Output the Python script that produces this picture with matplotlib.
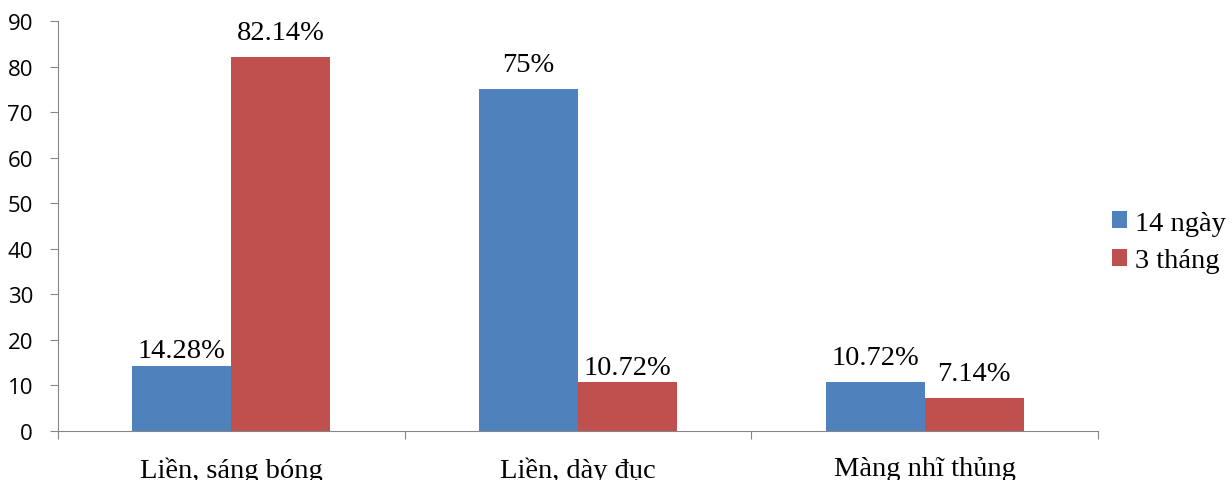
import matplotlib.pyplot as plt
import numpy as np

# data
categories = ['Liền, sáng bóng', 'Liền, dày đục', 'Màng nhĩ thủng']
series_names = ['14 ngày', '3 tháng']
vals_14ngay = [14.28, 75, 10.72]
vals_3thang = [82.14, 10.72, 7.14]
labels_14ngay = ['14.28%', '75%', '10.72%']
labels_3thang = ['82.14%', '10.72%', '7.14%']

# label gap above each bar, in points (two labels sit closer in the original)
gap_14ngay = [6.5, 13, 13]
gap_3thang = [13, 6, 13]

blue = '#4F81BD'
red = '#C0504D'
grey = '#868686'
serif = 'Liberation Serif'
sans = 'Open Sans'
fs = 20.5

fig = plt.figure(figsize=(12.32, 4.81), dpi=100)
ax = fig.add_axes([58/1232, 1 - 432/481, (1098 - 58)/1232, (432 - 22)/481])

x = np.arange(len(categories))
w = 0.286
b1 = ax.bar(x - w/2, vals_14ngay, w, color=blue, label=series_names[0])
b2 = ax.bar(x + w/2, vals_3thang, w, color=red, label=series_names[1])

for bars, labs, gaps in [(b1, labels_14ngay, gap_14ngay), (b2, labels_3thang, gap_3thang)]:
    for r, lab, g in zip(bars, labs, gaps):
        ax.annotate(lab, (r.get_x() + r.get_width()/2, r.get_height()),
                    xytext=(0, g), textcoords='offset points',
                    ha='center', va='baseline', fontsize=fs, family=serif)

ax.set_xlim(-0.5, 2.5)
ax.set_ylim(0, 90)
ax.set_yticks(np.arange(0, 91, 10))
ax.set_xticks([-0.5, 0.5, 1.5, 2.5])
ax.set_xticklabels([])
ax.set_xticks(x, minor=True)
ax.set_xticklabels(categories, minor=True, fontsize=fs, family=serif)
ax.tick_params(axis='x', which='minor', length=0, pad=18)
ax.tick_params(axis='x', which='major', length=6, color=grey, direction='out')
ax.tick_params(axis='y', length=6, color=grey, direction='out', pad=12,
               labelsize=16)
for t in ax.get_yticklabels():
    t.set_family(sans)

for s in ['top', 'right']:
    ax.spines[s].set_visible(False)
for s in ['left', 'bottom']:
    ax.spines[s].set_color(grey)

leg = ax.legend(loc='center left', bbox_to_anchor=(1.0135, 0.461), frameon=False,
                prop={'family': serif, 'size': fs}, handlelength=0.53,
                handleheight=0.53, handletextpad=0.28, labelspacing=0.45,
                borderpad=0, borderaxespad=0)

fig.savefig('out.png', dpi=100)
